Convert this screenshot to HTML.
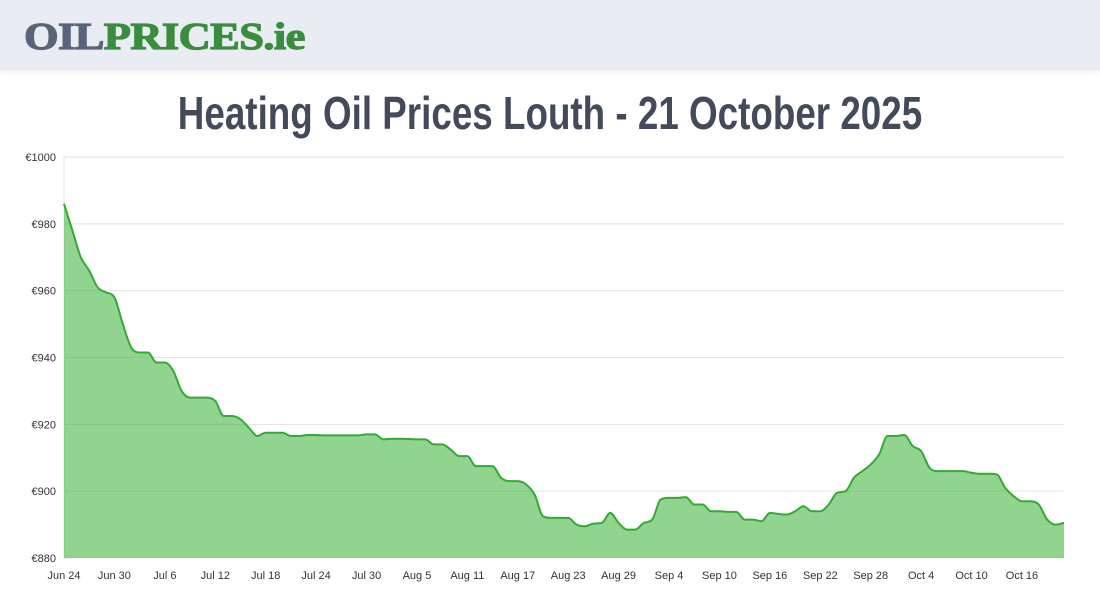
<!DOCTYPE html>
<html><head><meta charset="utf-8">
<style>
body{margin:0;width:1100px;height:600px;background:#fff;overflow:hidden;font-family:"Liberation Sans",sans-serif;}
#hdr{position:absolute;left:0;top:0;width:1100px;height:70px;background:#e9ecf3;box-shadow:0 2px 6px rgba(0,0,0,0.08);}
#logo{position:absolute;left:24px;top:14px;font-family:"Liberation Serif",serif;font-weight:bold;font-size:38px;letter-spacing:-0.5px;line-height:46px;transform:scaleX(1.17);transform-origin:left center;-webkit-text-stroke:1.2px currentColor;}
#logo .a{color:#5a6478;-webkit-text-stroke:1.2px #5a6478}#logo .b{color:#3a8c3f;-webkit-text-stroke:1.2px #3a8c3f}
#title{position:absolute;left:0;top:86px;width:1100px;text-align:center;font-family:"Liberation Sans",sans-serif;font-weight:bold;font-size:46px;color:#434b5b;transform:scaleX(0.8);transform-origin:550px center;}
svg{position:absolute;left:0;top:0}
</style></head><body>
<div id="hdr">
<div id="logo"><span class="a">OIL</span><span class="b">PRICES.ie</span></div></div>
<div id="title">Heating Oil Prices Louth - 21 October 2025</div>
<svg id="chart" width="1100" height="600"></svg>
<script>
const startDate = [2025, 5, 24];
const prices = [986,978,970,966,961,959.5,958,
950,943,941.5,941.5,938.5,938.5,936,930,928,928,928,927,922.5,922.5,921.5,919,916.5,917.5,917.5,917.5,916.5,916.5,916.8,916.8,916.7,916.7,916.7,916.7,916.7,917,917,
915.5,915.7,915.7,915.6,915.5,915.5,914,914,912.5,910.5,910.5,907.5,907.5,907.5,904,903,903,902,899,892.5,892,892,892,890,889.5,890.3,890.5,893.5,890.5,888.5,888.5,
890.5,891.5,897.5,898,898,898.2,896,896,894,894,893.8,893.8,891.5,891.5,891,893.5,893.2,893,894,895.5,894,894,896,899.5,900,904,906,908,911,916.5,
916.5,916.8,913.5,912,907,906,906,906,906,905.5,905.2,905.2,905,901,898.5,897,897,896,891.5,890,890.5];
const yTicks = [880,900,920,940,960,980,1000];
const monthNames = ["Jan","Feb","Mar","Apr","May","Jun","Jul","Aug","Sep","Oct","Nov","Dec"];
const NS="http://www.w3.org/2000/svg";
const svg=document.getElementById('chart');
const X0=64,X1=1064,Y0=558,Y1=157,YMIN=880,YMAX=1000;
const xs=i=>X0+(X1-X0)*i/(prices.length-1);
const ys=v=>Y0-(Y0-Y1)*(v-YMIN)/(YMAX-YMIN);
function mk(t,a){const e=document.createElementNS(NS,t);for(const k in a)e.setAttribute(k,a[k]);svg.appendChild(e);return e;}
yTicks.forEach(v=>{
 const l=mk('line',{x1:X0,x2:X1,y1:ys(v),y2:ys(v),stroke:'#e2e2e2','stroke-width':1});
 
 
 const t=mk('text',{x:X0-8,y:ys(v)+4,'text-anchor':'end','font-size':11,fill:'#333','font-family':'Liberation Sans, sans-serif'});
 t.textContent='€'+v;
 
 
});
const ax=mk('line',{x1:X0,x2:X0,y1:Y1,y2:Y0,stroke:'#e2e2e2'});


const P=prices.map((v,i)=>[xs(i),ys(v)]);
const n=P.length,d=[],m=[];
for(let i=0;i<n-1;i++)d.push((P[i+1][1]-P[i][1])/(P[i+1][0]-P[i][0]));
m[0]=d[0];m[n-1]=d[n-2];
for(let i=1;i<n-1;i++)m[i]=(d[i-1]*d[i]<=0)?0:(d[i-1]+d[i])/2;
for(let i=0;i<n-1;i++){if(d[i]===0){m[i]=0;m[i+1]=0;continue;}const a=m[i]/d[i],b=m[i+1]/d[i],s=a*a+b*b;if(s>9){const t=3/Math.sqrt(s);m[i]=t*a*d[i];m[i+1]=t*b*d[i];}}
let path='M'+P[0][0]+','+P[0][1];
for(let i=0;i<n-1;i++){const h=(P[i+1][0]-P[i][0])/3;path+=' C'+(P[i][0]+h)+','+(P[i][1]+m[i]*h)+' '+(P[i+1][0]-h)+','+(P[i+1][1]-m[i+1]*h)+' '+P[i+1][0]+','+P[i+1][1];}
const area=mk('path',{d:path+' L'+X1+','+Y0+' L'+X0+','+Y0+' Z',fill:'rgba(60,180,60,0.57)'});


const line=mk('path',{d:path,fill:'none',stroke:'#33aa33','stroke-width':2});


for(let i=0;i<n;i+=6){
 const dt=new Date(startDate[0],startDate[1],startDate[2]+i);
 const t=mk('text',{x:xs(i),y:579,'text-anchor':'middle','font-size':11,fill:'#333','font-family':'Liberation Sans, sans-serif'});
 t.textContent=monthNames[dt.getMonth()]+' '+dt.getDate();
 
 
}
</script>
</body></html>
